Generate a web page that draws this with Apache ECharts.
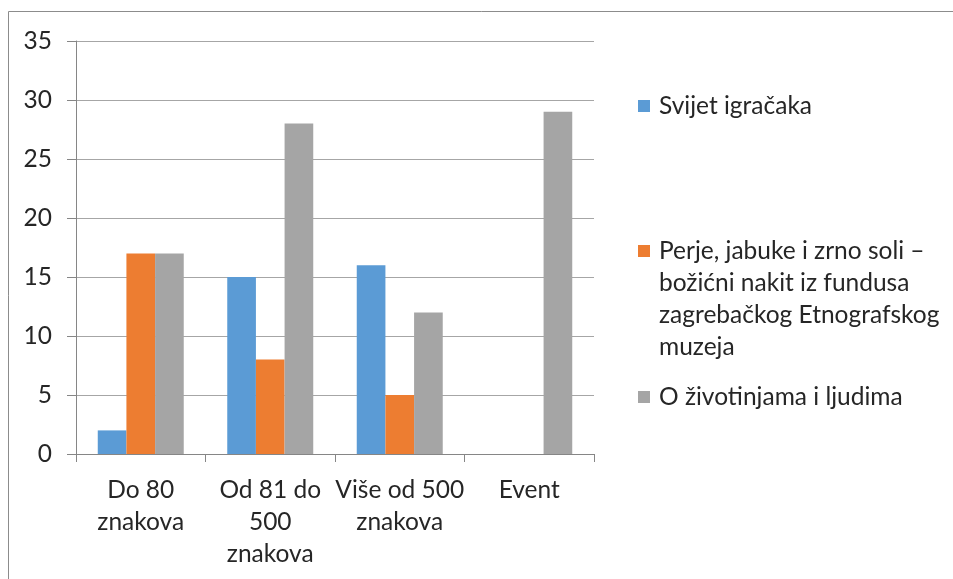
<!DOCTYPE html>
<html>
<head>
<meta charset="utf-8">
<script src="https://cdn.jsdelivr.net/npm/echarts@6/dist/echarts.min.js"></script>
<style>
  html, body { margin: 0; padding: 0; background: #fff; }
  #chart { width: 953px; height: 579px; }
</style>
</head>
<body>
<div id="chart"></div>
<script>
// Category labels (line breaks as shown under the axis)
const categories = ['Do 80\nznakova', 'Od 81 do\n500\nznakova', 'Više od 500\nznakova', 'Event'];

// Series names and values
const seriesNames = [
  'Svijet igračaka',
  'Perje, jabuke i zrno soli – božićni nakit iz fundusa zagrebačkog Etnografskog muzeja',
  'O životinjama i ljudima'
];
const legendLines = [
  ['Svijet igračaka'],
  ['Perje, jabuke i zrno soli –', 'božićni nakit iz fundusa', 'zagrebačkog Etnografskog', 'muzeja'],
  ['O životinjama i ljudima']
];
const svijetIgracaka = [2, 15, 16, 0];
const perjeJabuke = [17, 8, 5, 0];
const oZivotinjama = [17, 28, 12, 29];

const colors = ['#5B9BD5', '#ED7D31', '#A5A5A5'];
const FONT = 'Lato, sans-serif';
const FONT_SIZE = 24.5;
const LINE_H = 32;

const chart = echarts.init(document.getElementById('chart'), null, { renderer: 'canvas' });

// Legend at the right: a square marker per series, first text line centred on it
const legendCentres = [106, 251, 397];
const legendGraphics = [];
legendLines.forEach((lines, i) => {
  legendGraphics.push({
    type: 'rect',
    shape: { x: 638, y: legendCentres[i] - 6, width: 12, height: 12 },
    style: { fill: colors[i] }
  });
  legendGraphics.push({
    type: 'text',
    x: 659,
    y: legendCentres[i] - LINE_H / 2,
    style: {
      text: lines.join('\n'),
      font: FONT_SIZE + 'px ' + FONT,
      fill: '#262626',
      lineHeight: LINE_H,
      verticalAlign: 'top'
    }
  });
});

const option = {
  animation: false,
  color: colors,
  grid: { left: 76, right: 359, top: 41, bottom: 125, containLabel: false },
  xAxis: {
    type: 'category',
    data: categories,
    axisLine: { lineStyle: { color: '#868686', width: 1 } },
    axisTick: { show: true, length: 8, lineStyle: { color: '#868686' } },
    axisLabel: {
      color: '#262626', fontFamily: FONT, fontSize: FONT_SIZE, lineHeight: LINE_H,
      margin: 20, interval: 0
    }
  },
  yAxis: {
    type: 'value',
    min: 0, max: 35, interval: 5,
    axisLine: { show: true, lineStyle: { color: '#868686', width: 1 } },
    axisTick: { show: true, length: 9, lineStyle: { color: '#868686' } },
    splitLine: { lineStyle: { color: '#A6A6A6', width: 1 } },
    axisLabel: { color: '#262626', fontFamily: FONT, fontSize: FONT_SIZE, margin: 24 }
  },
  series: [
    { name: seriesNames[0], type: 'bar', data: svijetIgracaka, barGap: '0%', barCategoryGap: '33.6%' },
    { name: seriesNames[1], type: 'bar', data: perjeJabuke, barGap: '0%', barCategoryGap: '33.6%' },
    { name: seriesNames[2], type: 'bar', data: oZivotinjama, barGap: '0%', barCategoryGap: '33.6%' }
  ],
  graphic: [
    {
      type: 'rect',
      shape: { x: 8.5, y: 11.5, width: 1200, height: 1200 },
      style: { fill: 'none', stroke: '#8C8C8C', lineWidth: 1 },
      silent: true
    }
  ].concat(legendGraphics)
};

chart.setOption(option);
</script>
</body>
</html>
